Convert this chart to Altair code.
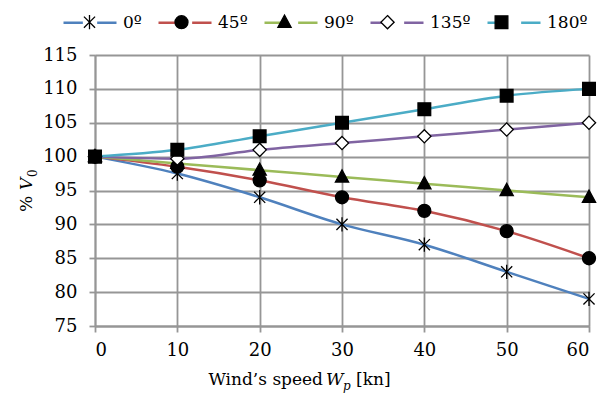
import altair as alt
import pandas as pd

# Wind speed (kn) on the x axis
speeds = [0, 10, 20, 30, 40, 50, 60]

# Relative speed %V0 for each wind direction
angles = ["0º", "45º", "90º", "135º", "180º"]
v_0 = [100, 97.5, 94, 90, 87, 83, 79]
v_45 = [100, 98.5, 96.5, 94, 92, 89, 85]
v_90 = [100, 99, 98, 97, 96, 95, 94]
v_135 = [100, 99.7, 101, 102, 103, 104, 105]
v_180 = [100, 101, 103, 105, 107, 109, 110]
series_values = [v_0, v_45, v_90, v_135, v_180]

line_colors = ["#4f81bd", "#c0504d", "#9bbb59", "#8064a2", "#4bacc6"]

# Every legend/marker path carries the same bare move-to corners so both legends
# measure the same symbol box; the visible part is drawn inside it.
BOX = "M-1,-1M1,1"
marker_paths = [
    BOX + "M-0.21,-0.21L0.21,0.21M-0.21,0.21L0.21,-0.21M0,-0.27V0.27",           # asterisk
    BOX + "M0.245,0A0.245,0.245,0,1,1,-0.245,0A0.245,0.245,0,1,1,0.245,0Z",     # circle
    BOX + "M0,-0.27L0.25,0.19L-0.25,0.19Z",                                     # triangle
    BOX + "M0,-0.25L0.25,0L0,0.25L-0.25,0Z",                                    # diamond
    BOX + "M-0.24,-0.24H0.24V0.24H-0.24Z",                                      # square
]
line_sample = BOX + "M-1,0H-0.27M0.27,0H1"
marker_fills = ["black", "black", "black", "white", "black"]
marker_strokes = ["black"] * 5

# Marker keys carry a suffix so the marker legend stays separate from the
# line legend; the suffix is stripped again from the (hidden) labels.
marker_keys = [a + "_m" for a in angles]

rows = []
for name, key, vals in zip(angles, marker_keys, series_values):
    for s, v in zip(speeds, vals):
        rows.append({"Speed": s, "Value": v, "Angle": name, "Marker": key})
df = pd.DataFrame(rows)

FONT = "DejaVu Serif"
SYM = 2809  # symbol area: 53 px long legend sample

x_enc = alt.X(
    "Speed:Q",
    scale=alt.Scale(domain=[0, 60], nice=False),
    axis=alt.Axis(values=speeds, title=None, labelPadding=9),
)
y_enc = alt.Y(
    "Value:Q",
    scale=alt.Scale(domain=[75, 115], nice=False, zero=False),
    axis=alt.Axis(values=list(range(75, 116, 5)), title=None, labelPadding=12),
)

legend_common = dict(
    orient="none",
    legendX=-33,
    legendY=-60.5,
    direction="horizontal",
    title=None,
    padding=0,
    columnPadding=11,
    labelOffset=5,
    labelFont=FONT,
    labelFontSize=17,
    labelColor="black",
    symbolSize=SYM,
)

lines = alt.Chart(df).mark_line(interpolate="monotone", strokeWidth=2.5).encode(
    x=x_enc,
    y=y_enc,
    color=alt.Color(
        "Angle:N",
        scale=alt.Scale(domain=angles, range=line_colors),
        legend=alt.Legend(
            symbolType=line_sample,
            symbolStrokeWidth=2.5,
            **legend_common,
        ),
    ),
)

marker_legend = alt.Legend(
    symbolStrokeWidth=1.3,
    labelOpacity=0,
    labelExpr="replace(datum.label, '_m', '')",
    **legend_common,
)

points = alt.Chart(df).mark_point(
    filled=True, strokeWidth=1.3, size=SYM, opacity=1
).encode(
    x=x_enc,
    y=y_enc,
    shape=alt.Shape(
        "Marker:N", scale=alt.Scale(domain=marker_keys, range=marker_paths), legend=marker_legend
    ),
    fill=alt.Fill(
        "Marker:N", scale=alt.Scale(domain=marker_keys, range=marker_fills), legend=marker_legend
    ),
    stroke=alt.Stroke(
        "Marker:N", scale=alt.Scale(domain=marker_keys, range=marker_strokes), legend=marker_legend
    ),
)


def label(text, x, y, align="left", size=17, italic=False, angle=0):
    kw = dict(align=align, baseline="alphabetic", fontSize=size, font=FONT, color="black")
    if italic:
        kw["fontStyle"] = "italic"
    if angle:
        kw["angle"] = angle
    return alt.Chart(pd.DataFrame({"t": [text]})).mark_text(**kw).encode(
        x=alt.value(x), y=alt.value(y), text="t:N"
    )


# x axis title: Wind's speed W_p [kn]
x_title = [
    label("Wind’s speed", 228, 330, align="right"),
    label("W", 231, 330, italic=True),
    label("p", 248, 335, size=12, italic=True),
    label("[kn]", 261, 330),
]
# y axis title: % V_0
y_title = [
    label("%", -63, 157, angle=270),
    label("V", -63, 135, italic=True, angle=270),
    label("0", -58, 122, size=12, angle=270),
]

chart = alt.layer(lines, points, *x_title, *y_title).properties(
    width=494,
    height=271,
    autosize="none",
    padding={"left": 95, "top": 55, "right": 17, "bottom": 68},
).configure(font=FONT).configure_view(stroke=None).configure_axis(
    grid=True,
    gridColor="#969696",
    gridWidth=1.8,
    domainColor="#969696",
    domainWidth=1.8,
    tickColor="#969696",
    tickWidth=1.8,
    tickSize=6,
    labelFont=FONT,
    labelFontSize=18,
    labelColor="black",
)

chart.save("out.html", embed_options={"renderer": "svg", "actions": False})
